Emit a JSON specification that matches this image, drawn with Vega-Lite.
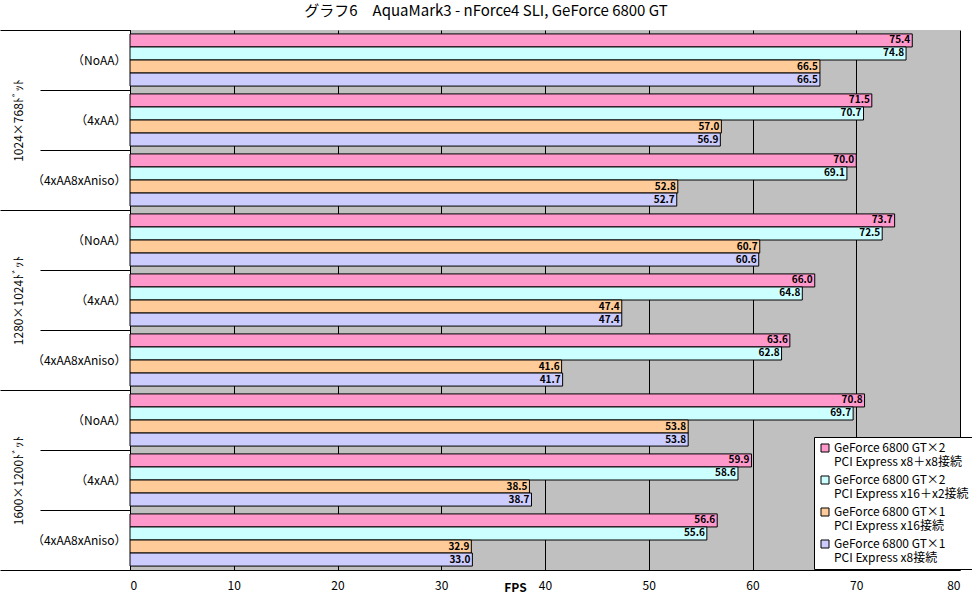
{
  "$schema": "https://vega.github.io/schema/vega-lite/v6.json",
  "width": 830,
  "height": 540,
  "autosize": {"type": "none"},
  "padding": {"left": 130, "top": 30, "right": 12, "bottom": 34},
  "background": "white",
  "config": {
    "font": "Noto Sans CJK JP",
    "view": {"fill": "#C0C0C0", "stroke": null}
  },
  "title": {"text": "グラフ6　AquaMark3 - nForce4 SLI, GeForce 6800 GT", "fontSize": 15, "fontWeight": "normal", "color": "black", "dx": -59, "offset": 5},
  "data": {"values": [
    {"res": "1024×768ﾄﾞｯﾄ", "g": "1024×768ﾄﾞｯﾄ|（NoAA）", "s": "GeForce 6800 GT×2|PCI Express x8＋x8接続", "v": 75.4},
    {"res": "1024×768ﾄﾞｯﾄ", "g": "1024×768ﾄﾞｯﾄ|（NoAA）", "s": "GeForce 6800 GT×2|PCI Express x16＋x2接続", "v": 74.8},
    {"res": "1024×768ﾄﾞｯﾄ", "g": "1024×768ﾄﾞｯﾄ|（NoAA）", "s": "GeForce 6800 GT×1|PCI Express x16接続", "v": 66.5},
    {"res": "1024×768ﾄﾞｯﾄ", "g": "1024×768ﾄﾞｯﾄ|（NoAA）", "s": "GeForce 6800 GT×1|PCI Express x8接続", "v": 66.5},
    {"res": "1024×768ﾄﾞｯﾄ", "g": "1024×768ﾄﾞｯﾄ|（4xAA）", "s": "GeForce 6800 GT×2|PCI Express x8＋x8接続", "v": 71.5},
    {"res": "1024×768ﾄﾞｯﾄ", "g": "1024×768ﾄﾞｯﾄ|（4xAA）", "s": "GeForce 6800 GT×2|PCI Express x16＋x2接続", "v": 70.7},
    {"res": "1024×768ﾄﾞｯﾄ", "g": "1024×768ﾄﾞｯﾄ|（4xAA）", "s": "GeForce 6800 GT×1|PCI Express x16接続", "v": 57.0},
    {"res": "1024×768ﾄﾞｯﾄ", "g": "1024×768ﾄﾞｯﾄ|（4xAA）", "s": "GeForce 6800 GT×1|PCI Express x8接続", "v": 56.9},
    {"res": "1024×768ﾄﾞｯﾄ", "g": "1024×768ﾄﾞｯﾄ|（4xAA8xAniso）", "s": "GeForce 6800 GT×2|PCI Express x8＋x8接続", "v": 70.0},
    {"res": "1024×768ﾄﾞｯﾄ", "g": "1024×768ﾄﾞｯﾄ|（4xAA8xAniso）", "s": "GeForce 6800 GT×2|PCI Express x16＋x2接続", "v": 69.1},
    {"res": "1024×768ﾄﾞｯﾄ", "g": "1024×768ﾄﾞｯﾄ|（4xAA8xAniso）", "s": "GeForce 6800 GT×1|PCI Express x16接続", "v": 52.8},
    {"res": "1024×768ﾄﾞｯﾄ", "g": "1024×768ﾄﾞｯﾄ|（4xAA8xAniso）", "s": "GeForce 6800 GT×1|PCI Express x8接続", "v": 52.7},
    {"res": "1280×1024ﾄﾞｯﾄ", "g": "1280×1024ﾄﾞｯﾄ|（NoAA）", "s": "GeForce 6800 GT×2|PCI Express x8＋x8接続", "v": 73.7},
    {"res": "1280×1024ﾄﾞｯﾄ", "g": "1280×1024ﾄﾞｯﾄ|（NoAA）", "s": "GeForce 6800 GT×2|PCI Express x16＋x2接続", "v": 72.5},
    {"res": "1280×1024ﾄﾞｯﾄ", "g": "1280×1024ﾄﾞｯﾄ|（NoAA）", "s": "GeForce 6800 GT×1|PCI Express x16接続", "v": 60.7},
    {"res": "1280×1024ﾄﾞｯﾄ", "g": "1280×1024ﾄﾞｯﾄ|（NoAA）", "s": "GeForce 6800 GT×1|PCI Express x8接続", "v": 60.6},
    {"res": "1280×1024ﾄﾞｯﾄ", "g": "1280×1024ﾄﾞｯﾄ|（4xAA）", "s": "GeForce 6800 GT×2|PCI Express x8＋x8接続", "v": 66.0},
    {"res": "1280×1024ﾄﾞｯﾄ", "g": "1280×1024ﾄﾞｯﾄ|（4xAA）", "s": "GeForce 6800 GT×2|PCI Express x16＋x2接続", "v": 64.8},
    {"res": "1280×1024ﾄﾞｯﾄ", "g": "1280×1024ﾄﾞｯﾄ|（4xAA）", "s": "GeForce 6800 GT×1|PCI Express x16接続", "v": 47.4},
    {"res": "1280×1024ﾄﾞｯﾄ", "g": "1280×1024ﾄﾞｯﾄ|（4xAA）", "s": "GeForce 6800 GT×1|PCI Express x8接続", "v": 47.4},
    {"res": "1280×1024ﾄﾞｯﾄ", "g": "1280×1024ﾄﾞｯﾄ|（4xAA8xAniso）", "s": "GeForce 6800 GT×2|PCI Express x8＋x8接続", "v": 63.6},
    {"res": "1280×1024ﾄﾞｯﾄ", "g": "1280×1024ﾄﾞｯﾄ|（4xAA8xAniso）", "s": "GeForce 6800 GT×2|PCI Express x16＋x2接続", "v": 62.8},
    {"res": "1280×1024ﾄﾞｯﾄ", "g": "1280×1024ﾄﾞｯﾄ|（4xAA8xAniso）", "s": "GeForce 6800 GT×1|PCI Express x16接続", "v": 41.6},
    {"res": "1280×1024ﾄﾞｯﾄ", "g": "1280×1024ﾄﾞｯﾄ|（4xAA8xAniso）", "s": "GeForce 6800 GT×1|PCI Express x8接続", "v": 41.7},
    {"res": "1600×1200ﾄﾞｯﾄ", "g": "1600×1200ﾄﾞｯﾄ|（NoAA）", "s": "GeForce 6800 GT×2|PCI Express x8＋x8接続", "v": 70.8},
    {"res": "1600×1200ﾄﾞｯﾄ", "g": "1600×1200ﾄﾞｯﾄ|（NoAA）", "s": "GeForce 6800 GT×2|PCI Express x16＋x2接続", "v": 69.7},
    {"res": "1600×1200ﾄﾞｯﾄ", "g": "1600×1200ﾄﾞｯﾄ|（NoAA）", "s": "GeForce 6800 GT×1|PCI Express x16接続", "v": 53.8},
    {"res": "1600×1200ﾄﾞｯﾄ", "g": "1600×1200ﾄﾞｯﾄ|（NoAA）", "s": "GeForce 6800 GT×1|PCI Express x8接続", "v": 53.8},
    {"res": "1600×1200ﾄﾞｯﾄ", "g": "1600×1200ﾄﾞｯﾄ|（4xAA）", "s": "GeForce 6800 GT×2|PCI Express x8＋x8接続", "v": 59.9},
    {"res": "1600×1200ﾄﾞｯﾄ", "g": "1600×1200ﾄﾞｯﾄ|（4xAA）", "s": "GeForce 6800 GT×2|PCI Express x16＋x2接続", "v": 58.6},
    {"res": "1600×1200ﾄﾞｯﾄ", "g": "1600×1200ﾄﾞｯﾄ|（4xAA）", "s": "GeForce 6800 GT×1|PCI Express x16接続", "v": 38.5},
    {"res": "1600×1200ﾄﾞｯﾄ", "g": "1600×1200ﾄﾞｯﾄ|（4xAA）", "s": "GeForce 6800 GT×1|PCI Express x8接続", "v": 38.7},
    {"res": "1600×1200ﾄﾞｯﾄ", "g": "1600×1200ﾄﾞｯﾄ|（4xAA8xAniso）", "s": "GeForce 6800 GT×2|PCI Express x8＋x8接続", "v": 56.6},
    {"res": "1600×1200ﾄﾞｯﾄ", "g": "1600×1200ﾄﾞｯﾄ|（4xAA8xAniso）", "s": "GeForce 6800 GT×2|PCI Express x16＋x2接続", "v": 55.6},
    {"res": "1600×1200ﾄﾞｯﾄ", "g": "1600×1200ﾄﾞｯﾄ|（4xAA8xAniso）", "s": "GeForce 6800 GT×1|PCI Express x16接続", "v": 32.9},
    {"res": "1600×1200ﾄﾞｯﾄ", "g": "1600×1200ﾄﾞｯﾄ|（4xAA8xAniso）", "s": "GeForce 6800 GT×1|PCI Express x8接続", "v": 33.0}
  ]},
  "layer": [
    {
      "encoding": {
        "y": {"field": "g", "type": "nominal", "sort": null,
          "scale": {"paddingInner": 0, "paddingOuter": 0},
          "axis": {"orient": "left", "title": null, "labelExpr": "split(datum.label, '|')[1]", "tickBand": "extent", "tickSize": 90, "tickColor": "black", "domainColor": "black", "labelPadding": -86, "labelFontSize": 12, "labelColor": "black", "labelAlign": "right", "labelBaseline": "middle", "grid": false}},
        "yOffset": {"field": "s", "type": "nominal", "sort": null, "scale": {"paddingInner": 0, "paddingOuter": 0.3}},
        "x": {"field": "v", "type": "quantitative", "scale": {"domain": [0, 80], "nice": false},
          "axis": {"values": [0, 10, 20, 30, 40, 50, 60, 70, 80], "grid": true, "gridColor": "black", "gridOpacity": 1, "ticks": false, "domainColor": "black", "labelPadding": 10, "labelFontSize": 12, "labelColor": "black", "title": "FPS", "titleX": 385, "titleY": 17, "titleAlign": "center", "titleBaseline": "middle", "titleFontSize": 12, "titleFontWeight": "bold", "titleColor": "black"}}
      },
      "layer": [
        {"mark": {"type": "bar", "stroke": "black", "strokeWidth": 1},
         "encoding": {"color": {"field": "s", "type": "nominal", "sort": null,
           "scale": {"domain": ["GeForce 6800 GT×2|PCI Express x8＋x8接続", "GeForce 6800 GT×2|PCI Express x16＋x2接続", "GeForce 6800 GT×1|PCI Express x16接続", "GeForce 6800 GT×1|PCI Express x8接続"], "range": ["#FF99CC", "#CCFFFF", "#FFCC99", "#CCCCFF"]},
           "legend": {"orient": "none", "legendX": 684, "legendY": 407, "title": null, "fillColor": "white", "strokeColor": "black", "padding": 5, "symbolType": "square", "symbolSize": 64, "symbolStrokeColor": "black", "symbolStrokeWidth": 1, "labelFontSize": 12, "labelLineHeight": 15, "labelColor": "black", "labelExpr": "split(datum.label, '|')", "labelLimit": 300, "labelOffset": 3, "rowPadding": 6}}}},
        {"mark": {"type": "text", "align": "right", "baseline": "middle", "dx": -2, "fontWeight": "bold", "fontSize": 10, "color": "black"},
         "encoding": {"text": {"field": "v", "type": "quantitative", "format": ".1f"}}}
      ]
    },
    {
      "mark": {"type": "rule", "opacity": 0},
      "encoding": {
        "y": {"field": "res", "type": "nominal", "sort": null,
          "scale": {"paddingInner": 0, "paddingOuter": 0},
          "axis": {"orient": "left", "title": null, "tickBand": "extent", "tickSize": 130, "tickColor": "black", "domain": false, "labelAngle": 270, "labelAlign": "center", "labelBaseline": "middle", "labelPadding": -18, "labelFontSize": 12, "labelColor": "black", "grid": false}}
      }
    }
  ],
  "resolve": {"scale": {"y": "independent"}, "axis": {"y": "independent"}}
}
